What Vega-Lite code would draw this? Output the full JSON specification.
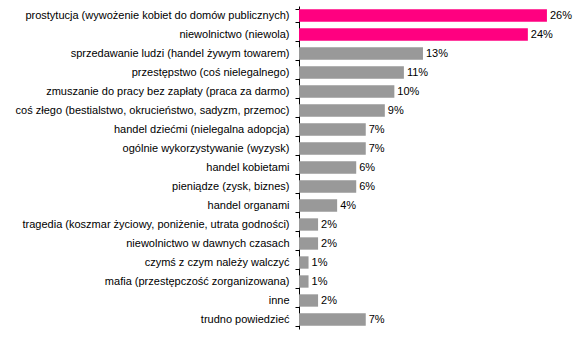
{
  "$schema": "https://vega.github.io/schema/vega-lite/v6.json",
  "autosize": {"type": "none"},
  "width": 267,
  "height": 323,
  "padding": {"left": 299, "top": 6, "right": 8, "bottom": 26},
  "background": "white",
  "config": {"view": {"stroke": null}, "font": "Liberation Sans"},
  "data": {"values": [
    {"cat": "prostytucja (wywożenie kobiet do domów publicznych)", "value": 0.26},
    {"cat": "niewolnictwo (niewola)", "value": 0.24},
    {"cat": "sprzedawanie ludzi (handel żywym towarem)", "value": 0.13},
    {"cat": "przestępstwo (coś nielegalnego)", "value": 0.11},
    {"cat": "zmuszanie do pracy bez zapłaty (praca za darmo)", "value": 0.10},
    {"cat": "coś złego (bestialstwo, okrucieństwo, sadyzm, przemoc)", "value": 0.09},
    {"cat": "handel dziećmi (nielegalna adopcja)", "value": 0.07},
    {"cat": "ogólnie wykorzystywanie (wyzysk)", "value": 0.07},
    {"cat": "handel kobietami", "value": 0.06},
    {"cat": "pieniądze (zysk, biznes)", "value": 0.06},
    {"cat": "handel organami", "value": 0.04},
    {"cat": "tragedia (koszmar życiowy, poniżenie, utrata godności)", "value": 0.02},
    {"cat": "niewolnictwo w dawnych czasach ", "value": 0.02},
    {"cat": "czymś z czym należy walczyć", "value": 0.01},
    {"cat": "mafia (przestępczość zorganizowana)", "value": 0.01},
    {"cat": "inne", "value": 0.02},
    {"cat": "trudno powiedzieć", "value": 0.07}
  ]},
  "encoding": {
    "y": {
      "field": "cat", "type": "nominal", "sort": null,
      "scale": {"paddingInner": 0.35, "paddingOuter": 0.175},
      "axis": {
        "title": null, "domainColor": "black", "domainWidth": 1,
        "tickColor": "black", "tickSize": 4, "tickBand": "extent",
        "labelPadding": 6, "labelFontSize": 11, "labelColor": "black",
        "labelFont": "Liberation Sans", "labelLimit": 400
      }
    },
    "x": {
      "field": "value", "type": "quantitative",
      "scale": {"domain": [0, 0.28], "nice": false},
      "axis": null
    }
  },
  "layer": [
    {
      "mark": {"type": "bar"},
      "encoding": {
        "color": {
          "condition": {"test": "datum.value > 0.2", "value": "#FF0080"},
          "value": "#999999"
        }
      }
    },
    {
      "mark": {"type": "text", "align": "left", "dx": 3, "fontSize": 11, "color": "black", "font": "Liberation Sans"},
      "encoding": {
        "text": {"field": "value", "type": "quantitative", "format": ".0%"}
      }
    }
  ]
}
